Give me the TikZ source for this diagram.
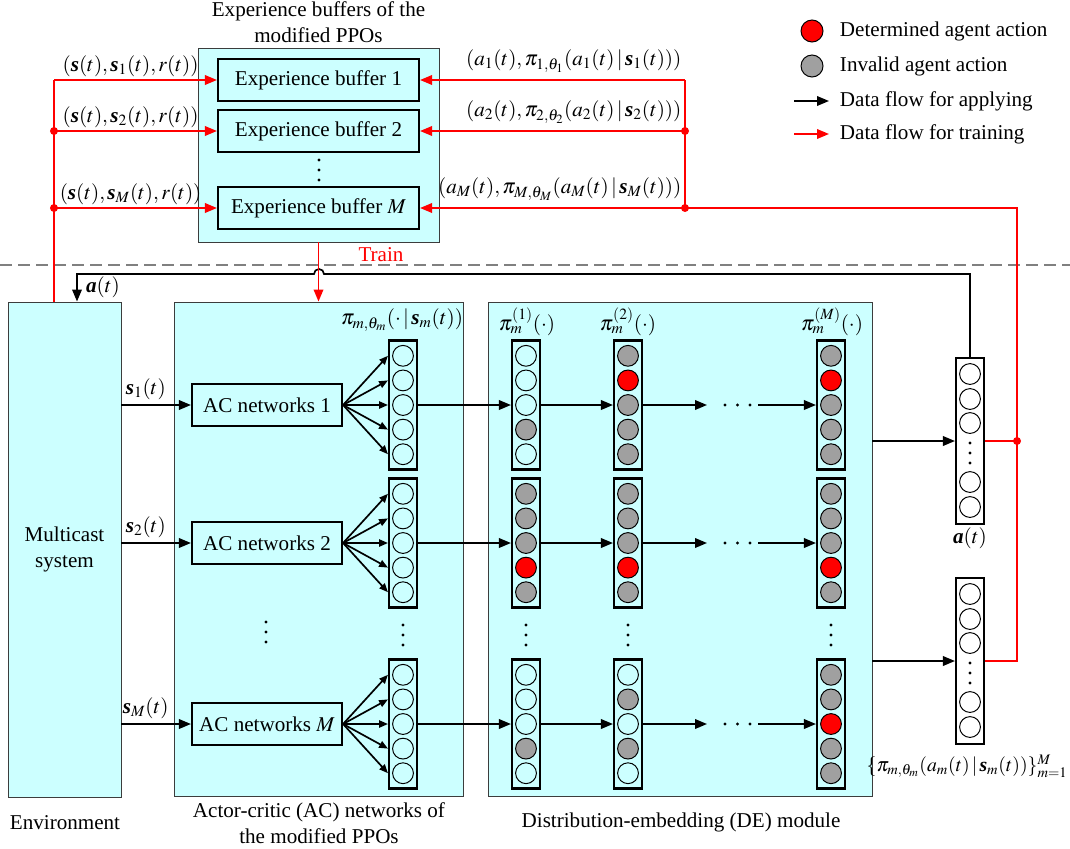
\documentclass[tikz,border=0pt]{standalone}
\usepackage{amsmath}
\usepackage{mathptmx}
\usepackage{fontspec}
\setmainfont{Liberation Serif}
\usetikzlibrary{positioning, arrows.meta, calc}

\definecolor{bgcyan}{RGB}{204,255,255}
\definecolor{actgray}{RGB}{160,160,160}
\definecolor{edgegray}{RGB}{60,60,60}
\definecolor{sepgray}{RGB}{128,128,128}

\newcommand{\bv}[1]{\text{\bfseries\itshape #1}}
% one probability vector: name, x, y, fills of the five units
\newcommand{\polvec}[4]{%
  \node[vecbox, minimum height=3.225cm] (#1) at (#2,#3) {};
  \foreach \c [count=\k] in {#4}
    \node[unit, fill=\c] (#1-\k) at ({#2},{#3+(\k-3)*24.6}) {};
}
\newcommand{\vdotsat}[2]{\foreach \o in {-10,0,10} \fill ({#1},{#2+\o}) circle[radius=1.6];}
\newcommand{\hdotsat}[2]{\foreach \o in {-12.5,0,12.5} \fill ({#1+\o},{#2}) circle[radius=1.6];}

\begin{document}
\begin{tikzpicture}[
    x=0.025cm, y=-0.025cm,
    font=\fontsize{15}{18.5}\selectfont,
    outer/.style={draw=edgegray, line width=0.6pt, fill=bgcyan, inner sep=0pt},
    box/.style={draw, line width=1.5pt, fill=bgcyan, minimum height=1.05cm, align=center, inner sep=0pt},
    vecbox/.style={draw, line width=1.5pt, minimum width=0.7cm, inner sep=0pt},
    unit/.style={draw, circle, line width=0.7pt, minimum size=0.52cm, inner sep=0pt},
    arrow/.style={-{Triangle[length=0.3cm, width=0.24cm]}, line width=1.2pt},
    fan/.style={-{Triangle[length=0.22cm, width=0.18cm]}, line width=1.2pt},
    redarrow/.style={arrow, red},
    redline/.style={red, line width=1.2pt},
    joint/.style={circle, fill=red, inner sep=0pt, minimum size=0.2cm},
    lbl/.style={inner sep=2pt, text=black}
]
\useasboundingbox (0,0) rectangle (1070,848);

% Separator
\draw[sepgray, line width=1.2pt, dash pattern=on 0.3cm off 0.15cm] (0,265) -- (1070,265);

% Outer boxes
\node[outer, minimum width=6.025cm, minimum height=4.85cm] (bufs) at (318.5,145) {};
\node[above=0pt of bufs, align=center] (bufcap) {Experience buffers of the\\modified PPOs};
\node[outer, minimum width=2.825cm, minimum height=12.375cm, align=center] (env) at (64.5,549.5) {Multicast\\system};
\node (envcap) at (65,823) {Environment};
\node[outer, minimum width=7.225cm, minimum height=12.35cm] (acnet) at (318.5,549) {};
\node[align=center] (accap) at (319,823) {Actor-critic (AC) networks of\\the modified PPOs};
\node[outer, minimum width=9.6cm, minimum height=12.35cm] (demod) at (680,549) {};
\node (decap) at (681,822) {Distribution-embedding (DE) module};

% Experience buffers
\node[box, minimum width=5.025cm] (buf1) at (318.5,80) {Experience buffer 1};
\node[box, minimum width=5.025cm] (buf2) at (318.5,131) {Experience buffer 2};
\node[box, minimum width=5.025cm] (bufM) at (318.5,208) {Experience buffer $M$};
\vdotsat{319}{170}

% AC networks
\node[box, minimum width=3.75cm] (ac1) at (267,405) {AC networks 1};
\node[box, minimum width=3.75cm] (ac2) at (267,543) {AC networks 2};
\node[box, minimum width=3.75cm] (acM) at (267,724) {AC networks $M$};
\vdotsat{266}{632}

% Policy vectors and DE stages
\node (pilbl) at (402,320) {$\pi_{m,\theta_m}(\cdot\,|\,\bv{s}_m(t))$};
\node (de1lbl) at (527,322) {$\pi_m^{(1)}(\cdot)$};
\node (de2lbl) at (628,322) {$\pi_m^{(2)}(\cdot)$};
\node (deMlbl) at (832,322) {$\pi_m^{(M)}(\cdot)$};

\polvec{pol1}{403}{405}{none,none,none,none,none}
\polvec{emb1-1}{526}{405}{none,none,none,actgray,none}
\polvec{emb2-1}{628}{405}{actgray,red,actgray,actgray,actgray}
\polvec{embM-1}{831}{405}{actgray,red,actgray,actgray,actgray}

\polvec{pol2}{403}{543}{none,none,none,none,none}
\polvec{emb1-2}{526}{543}{actgray,actgray,actgray,red,actgray}
\polvec{emb2-2}{628}{543}{actgray,actgray,actgray,red,actgray}
\polvec{embM-2}{831}{543}{actgray,actgray,actgray,red,actgray}

\polvec{polM}{403}{724}{none,none,none,none,none}
\polvec{emb1-M}{526}{724}{none,none,none,actgray,none}
\polvec{emb2-M}{628}{724}{none,actgray,none,actgray,none}
\polvec{embM-M}{831}{724}{actgray,actgray,red,actgray,actgray}

\foreach \x in {403,526,628,831} {\vdotsat{\x}{635}}

% Output vectors
\node[vecbox, minimum height=4.15cm] (aout) at (970,441) {};
\node[vecbox, minimum height=4.15cm] (pout) at (970,661) {};
\foreach \o [count=\k] in {-67,-42,-18,41,66} {
  \node[unit] (aout-\k) at (970,{441+\o}) {};
  \node[unit] (pout-\k) at (970,{661+\o}) {};
}
\vdotsat{970}{453}
\vdotsat{970}{673}
\node (albl) at (970,538) {$\bv{a}(t)$};
\node[anchor=east, inner sep=1pt, font=\fontsize{14}{17}\selectfont] (plbl) at (1069,766) {$\{\pi_{m,\theta_m}(a_m(t)\,|\,\bv{s}_m(t))\}_{m=1}^{M}$};

% Legend
\node[unit, fill=red, minimum size=0.55cm] (lgred) at (812,31) {};
\node[unit, fill=actgray, minimum size=0.55cm] (lggray) at (812,66) {};
\node[anchor=west] (lgt1) at (835,31) {Determined agent action};
\node[anchor=west] (lgt2) at (835,66) {Invalid agent action};
\node[anchor=west] (lgt3) at (835,101) {Data flow for applying};
\node[anchor=west] (lgt4) at (835,134) {Data flow for training};
\draw[arrow] ($(lgt3.west)+(-41,0)$) -- ($(lgt3.west)+(-6,0)$);
\draw[redarrow] ($(lgt4.west)+(-41,0)$) -- ($(lgt4.west)+(-6,0)$);

% Edges: states into AC networks
\draw[arrow] (env.east |- ac1.west) -- node[above, pos=0.35] {$\bv{s}_1(t)$} (ac1.west);
\draw[arrow] (env.east |- ac2.west) -- node[above, pos=0.35] {$\bv{s}_2(t)$} (ac2.west);
\draw[arrow] (env.east |- acM.west) -- node[above, pos=0.35] {$\bv{s}_M(t)$} (acM.west);

% Edges: AC networks to policies, and through the DE stages
\foreach \r/\y in {1/405, 2/543, M/724} {
  \foreach \k in {1,...,5}
    \draw[fan] (ac\r.east) -- (pol\r.west |- pol\r-\k);
  \draw[arrow] (pol\r.east) -- (emb1-\r.west);
  \draw[arrow] (emb1-\r.east) -- (emb2-\r.west);
  \coordinate (gapL\r) at (707,\y);
  \coordinate (gapR\r) at (758,\y);
  \draw[arrow] (emb2-\r.east) -- (gapL\r);
  \hdotsat{737.5}{\y}
  \draw[arrow] (gapR\r) -- (embM-\r.west);
}

% Edges: DE module to outputs
\draw[arrow] (demod.east |- aout.west) -- (aout.west);
\draw[arrow] (demod.east |- pout.west) -- (pout.west);

% Edges: action fed back to the environment
\coordinate (fbR) at (970,274);
\coordinate (hop) at (319,274);
\coordinate (fbL) at (77,274);
\draw[arrow] (aout.north) -- (fbR) -- ([xshift=0.125cm]hop) arc[start angle=0, end angle=-180, radius=5] -- (fbL) -- (fbL |- env.north);
\node (fblbl) at (103,287) {$\bv{a}(t)$};

% Edges: training data (red)
\coordinate (l1) at (54,80);
\coordinate (l2) at (54,131);
\coordinate (lM) at (54,208);
\draw[redline] (l1) -- (l1 |- env.north);
\draw[redarrow] (l1) -- node[above, pos=0.47, lbl] {$(\bv{s}(t),\bv{s}_1(t),r(t))$} (buf1.west);
\draw[redarrow] (l2) -- node[above, pos=0.47, lbl] {$(\bv{s}(t),\bv{s}_2(t),r(t))$} (buf2.west);
\draw[redarrow] (lM) -- node[above, pos=0.47, lbl] {$(\bv{s}(t),\bv{s}_M(t),r(t))$} (bufM.west);

\coordinate (r1) at (685,80);
\coordinate (r2) at (685,131);
\coordinate (rM) at (685,208);
\coordinate (rc) at (1017,441);
\draw[redline] (r1) -- (rM);
\draw[redarrow] (r1) -- node[above left, pos=0, lbl, yshift=0.1cm] {$(a_1(t),\pi_{1,\theta_1}(a_1(t)\,|\,\bv{s}_1(t)))$} (buf1.east);
\draw[redarrow] (r2) -- node[above left, pos=0, lbl, yshift=0.1cm] {$(a_2(t),\pi_{2,\theta_2}(a_2(t)\,|\,\bv{s}_2(t)))$} (buf2.east);
\draw[redarrow] (rM) -- node[above left, pos=0, lbl, yshift=0.1cm] {$(a_M(t),\pi_{M,\theta_M}(a_M(t)\,|\,\bv{s}_M(t)))$} (bufM.east);
\draw[redline] (rM) -| (rc |- pout.east) -- (pout.east);
\draw[redline] (aout.east) -- (rc);
\foreach \p in {l2, lM, r2, rM, rc} \node[joint] at (\p) {};

\draw[redarrow] (bufs.south) -- (acnet.north);
\node[red] (trainlbl) at (381,255) {Train};

\end{tikzpicture}
\end{document}
